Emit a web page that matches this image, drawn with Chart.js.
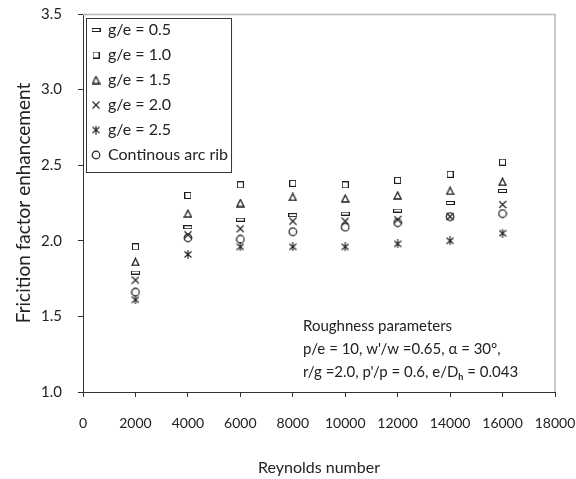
<!DOCTYPE html>
<html>
<head>
<meta charset="utf-8">
<script src="https://cdn.jsdelivr.net/npm/chart.js@4.4.1/dist/chart.umd.min.js"></script>
<style>
  html, body { margin: 0; padding: 0; background: #fff; }
  #wrap { width: 576px; height: 479px; }
</style>
</head>
<body>
<div id="wrap"><canvas id="myChart"></canvas></div>
<script>
// Reynolds number (x)
const reynolds = [2000, 4000, 6000, 8000, 10000, 12000, 14000, 16000]
// friction factor enhancement per rib gap
const ge05 = [1.79, 2.09, 2.14, 2.17, 2.18, 2.20, 2.25, 2.33]
const ge10 = [1.96, 2.30, 2.37, 2.38, 2.37, 2.40, 2.44, 2.52]
const ge15 = [1.86, 2.18, 2.25, 2.29, 2.28, 2.30, 2.33, 2.39]
const ge20 = [1.74, 2.04, 2.08, 2.13, 2.13, 2.14, 2.16, 2.24]
const ge25 = [1.61, 1.91, 1.96, 1.96, 1.96, 1.98, 2.00, 2.05]
const arcRib = [1.66, 2.02, 2.01, 2.06, 2.09, 2.12, 2.16, 2.18]

const seriesLabels = ["g/e = 0.5", "g/e = 1.0", "g/e = 1.5", "g/e = 2.0", "g/e = 2.5", "Continous arc rib"]
const xTicks = [0, 2000, 4000, 6000, 8000, 10000, 12000, 14000, 16000, 18000]
const yTicks = [1.0, 1.5, 2.0, 2.5, 3.0, 3.5]
const noteLines = ["Roughness parameters", "p/e = 10, w'/w =0.65, \u03b1 = 30\u00b0,", "r/g =2.0, p'/p = 0.6, e/D"]

const ink = "#1e1e1e"
const FONT = "Lato"

// small canvases used as point styles
function marker(w, h, draw) {
    const c = document.createElement("canvas")
    c.width = w
    c.height = h
    const g = c.getContext("2d")
    g.strokeStyle = ink
    g.lineWidth = 1.1
    draw(g)
    return c
}
const dash = marker(9, 4, g => { g.lineWidth = 1; g.strokeRect(0.5, 0.5, 8, 3) })
const square = marker(7, 7, g => { g.lineWidth = 1; g.strokeRect(0.5, 0.5, 6, 6) })
const triangle = marker(9, 9, g => {
    g.lineWidth = 1.3
    g.beginPath(); g.moveTo(4.5, 1); g.lineTo(8, 8); g.lineTo(1, 8); g.closePath(); g.stroke()
})
const cross = marker(8, 9, g => {
    g.beginPath(); g.moveTo(0.5, 1); g.lineTo(7.5, 8); g.moveTo(7.5, 1); g.lineTo(0.5, 8); g.stroke()
})
const asterisk = marker(8, 9, g => {
    g.beginPath(); g.moveTo(0.5, 1.5); g.lineTo(7.5, 7.5); g.moveTo(7.5, 1.5); g.lineTo(0.5, 7.5)
    g.moveTo(4, 0); g.lineTo(4, 9); g.stroke()
})
const circle = marker(10, 10, g => {
    g.lineWidth = 1.2
    g.beginPath(); g.arc(5, 5, 3.8, 0, Math.PI * 2); g.stroke()
})

const styles = [dash, square, triangle, cross, asterisk, circle]
const values = [ge05, ge10, ge15, ge20, ge25, arcRib]

const datasets = values.map((vals, i) => ({
    label: seriesLabels[i],
    data: reynolds.map((x, j) => ({x: x, y: vals[j]})),
    pointStyle: styles[i],
    pointRadius: 4,
    showLine: false,
    borderColor: ink,
    backgroundColor: ink
}))

const extras = {
    id: "extras",
    afterLayout(chart) {
        // push the legend into the plot corner
        const lg = chart.legend
        const h = lg.bottom - lg.top
        lg.top = chart.chartArea.top - 1
        lg.bottom = lg.top + h
    },
    afterDraw(chart) {
        const {ctx, chartArea: a, legend} = chart
        ctx.save()
        // grey frame on top and right
        ctx.strokeStyle = "#b8b8b8"
        ctx.lineWidth = 1.5
        ctx.beginPath()
        ctx.moveTo(a.left, a.top + 0.5)
        ctx.lineTo(a.right, a.top + 0.5)
        ctx.lineTo(a.right, a.bottom)
        ctx.stroke()

        // box round the legend
        const hb = legend.legendHitBoxes
        let r = 0
        hb.forEach(b => { r = Math.max(r, b.left + b.width) })
        ctx.strokeStyle = "#333"
        ctx.lineWidth = 1
        ctx.strokeRect(a.left + 3.5, a.top + 4.5, r + 3 - a.left - 3, 154)

        // roughness note
        ctx.fillStyle = "#222"
        ctx.font = "15px " + FONT
        ctx.textBaseline = "middle"
        const nx = a.left + 220
        const ny = [a.top + 312, a.top + 335, a.top + 358]
        noteLines.forEach((t, i) => ctx.fillText(t, nx, ny[i]))
        let w = ctx.measureText(noteLines[2]).width
        ctx.font = "bold 9px " + FONT
        ctx.fillText("h", nx + w, ny[2] + 5)
        w += ctx.measureText("h").width
        ctx.font = "15px " + FONT
        ctx.fillText(" = 0.043", nx + w, ny[2])
        ctx.restore()
    }
}

Chart.defaults.font.family = FONT
Chart.defaults.color = "#222"

new Chart(document.getElementById("myChart"), {
    type: "scatter",
    data: {datasets: datasets},
    options: {
        responsive: true,
        maintainAspectRatio: false,
        animation: false,
        layout: {padding: {top: 14, right: 21, left: 0, bottom: 0}},
        plugins: {
            tooltip: {enabled: false},
            legend: {
                position: "chartArea",
                align: "start",
                labels: {
                    usePointStyle: true,
                    boxWidth: 8,
                    boxHeight: 8,
                    padding: 9,
                    color: "#222",
                    font: {size: 16}
                }
            }
        },
        scales: {
            x: {
                type: "linear",
                min: xTicks[0],
                max: xTicks[xTicks.length - 1],
                afterBuildTicks: s => { s.ticks = xTicks.map(v => ({value: v})) },
                afterFit: s => { s.height = 87; s.paddingLeft = 0; s.paddingRight = 0 },
                border: {color: "#333", width: 1},
                grid: {drawOnChartArea: false, drawTicks: true, tickLength: 5, color: "#333"},
                ticks: {padding: 18, maxRotation: 0, font: {size: 14}, color: "#222", callback: v => String(v)},
                title: {display: true, text: "Reynolds number", font: {size: 16}, color: "#222", padding: {top: 0, bottom: 2}}
            },
            y: {
                min: yTicks[0],
                max: yTicks[yTicks.length - 1],
                afterBuildTicks: s => { s.ticks = yTicks.map(v => ({value: v})) },
                afterFit: s => { s.width = 83; s.paddingTop = 0; s.paddingBottom = 0 },
                border: {color: "#333", width: 1},
                grid: {drawOnChartArea: false, drawTicks: true, tickLength: 5, color: "#333"},
                ticks: {padding: 16, font: {size: 15}, color: "#222", callback: v => v.toFixed(1)},
                title: {display: true, text: "Fricition factor enhancement", font: {size: 19}, color: "#222", padding: {top: 12.5, bottom: 0}}
            }
        }
    },
    plugins: [extras]
})
</script>
</body>
</html>
